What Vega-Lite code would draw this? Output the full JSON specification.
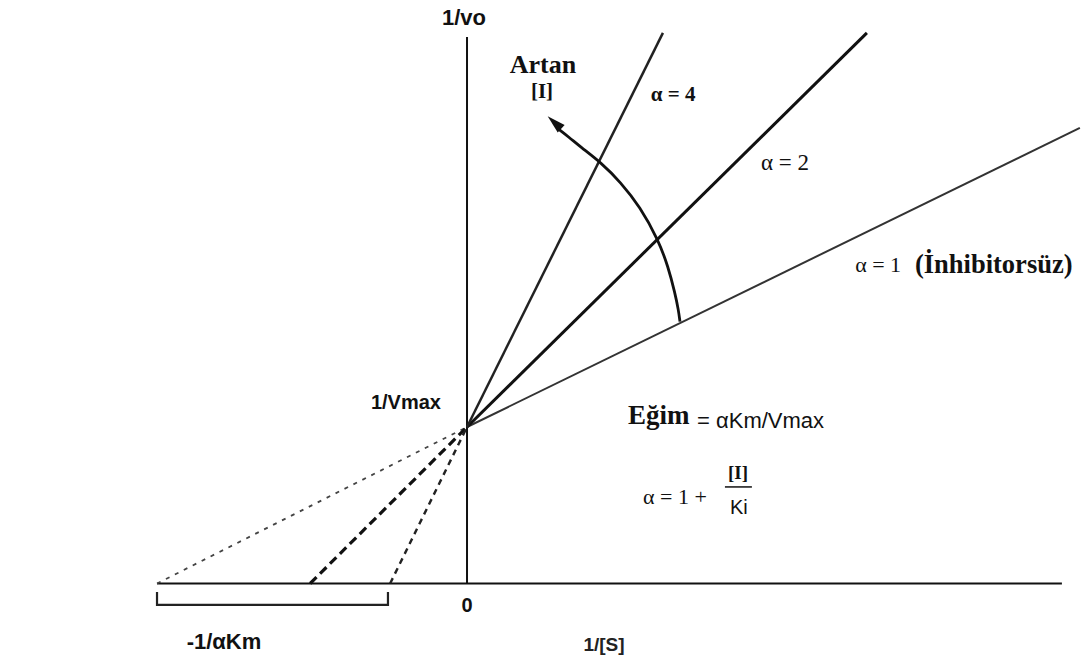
{
  "$schema": "https://vega.github.io/schema/vega-lite/v6.json",
  "width": 1081,
  "height": 662,
  "autosize": {"type": "none"},
  "padding": 0,
  "background": "white",
  "config": {"view": {"stroke": null}},
  "datasets": {
    "lines": [
      {"seg": "a1 dashed", "o": 0, "x": -1, "y": 0},
      {"seg": "a1 dashed", "o": 1, "x": 0, "y": 1},
      {"seg": "a1 solid", "o": 0, "x": 0, "y": 1},
      {"seg": "a1 solid", "o": 1, "x": 1.977, "y": 2.911},
      {"seg": "a2 dashed", "o": 0, "x": -0.506, "y": 0},
      {"seg": "a2 dashed", "o": 1, "x": 0, "y": 1},
      {"seg": "a2 solid", "o": 0, "x": 0, "y": 1},
      {"seg": "a2 solid", "o": 1, "x": 1.29, "y": 3.518},
      {"seg": "a4 dashed", "o": 0, "x": -0.248, "y": 0},
      {"seg": "a4 dashed", "o": 1, "x": 0, "y": 1},
      {"seg": "a4 solid", "o": 0, "x": 0, "y": 1},
      {"seg": "a4 solid", "o": 1, "x": 0.632, "y": 3.518}
    ]
  },
  "encoding": {
    "x": {"field": "x", "type": "quantitative", "scale": {"domain": [-1.5065, 1.9806], "nice": false, "zero": false}, "axis": null},
    "y": {"field": "y", "type": "quantitative", "scale": {"domain": [-0.5016, 3.7284], "nice": false, "zero": false}, "axis": null}
  },
  "layer": [
    {
      "data": {"values": [
        {"x": 0, "y": 0, "x2": 0, "y2": 3.492},
        {"x": -1, "y": 0, "x2": 1.919, "y2": 0}
      ]},
      "mark": {"type": "rule", "color": "#111", "strokeWidth": 2},
      "encoding": {"x2": {"field": "x2"}, "y2": {"field": "y2"}}
    },
    {
      "data": {"name": "lines"},
      "transform": [{"filter": "datum.seg == 'a1 solid'"}],
      "mark": {"type": "line", "color": "#333", "strokeWidth": 2},
      "encoding": {"order": {"field": "o"}}
    },
    {
      "data": {"name": "lines"},
      "transform": [{"filter": "datum.seg == 'a1 dashed'"}],
      "mark": {"type": "line", "color": "#444", "strokeWidth": 1.8, "strokeDash": [4, 6]},
      "encoding": {"order": {"field": "o"}}
    },
    {
      "data": {"name": "lines"},
      "transform": [{"filter": "datum.seg == 'a2 solid'"}],
      "mark": {"type": "line", "color": "#111", "strokeWidth": 3},
      "encoding": {"order": {"field": "o"}}
    },
    {
      "data": {"name": "lines"},
      "transform": [{"filter": "datum.seg == 'a2 dashed'"}],
      "mark": {"type": "line", "color": "#111", "strokeWidth": 3.2, "strokeDash": [9, 5]},
      "encoding": {"order": {"field": "o"}}
    },
    {
      "data": {"name": "lines"},
      "transform": [{"filter": "datum.seg == 'a4 solid'"}],
      "mark": {"type": "line", "color": "#222", "strokeWidth": 2.5},
      "encoding": {"order": {"field": "o"}}
    },
    {
      "data": {"name": "lines"},
      "transform": [{"filter": "datum.seg == 'a4 dashed'"}],
      "mark": {"type": "line", "color": "#222", "strokeWidth": 2.4, "strokeDash": [6, 5]},
      "encoding": {"order": {"field": "o"}}
    },
    {
      "data": {"values": [
        {"o": 0, "x": -1, "y": -0.054},
        {"o": 1, "x": -1, "y": -0.137},
        {"o": 2, "x": -0.255, "y": -0.137},
        {"o": 3, "x": -0.255, "y": -0.054}
      ]},
      "mark": {"type": "line", "color": "#222", "strokeWidth": 2.2},
      "encoding": {"order": {"field": "o"}}
    },
    {
      "data": {"values": [
        {"o": 0, "x": 0.687, "y": 1.673},
        {"o": 1, "x": 0.682, "y": 1.748},
        {"o": 2, "x": 0.671, "y": 1.854},
        {"o": 3, "x": 0.649, "y": 2.024},
        {"o": 4, "x": 0.617, "y": 2.195},
        {"o": 5, "x": 0.558, "y": 2.408},
        {"o": 6, "x": 0.494, "y": 2.567},
        {"o": 7, "x": 0.435, "y": 2.685},
        {"o": 8, "x": 0.365, "y": 2.791},
        {"o": 9, "x": 0.33, "y": 2.85},
        {"o": 10, "x": 0.292, "y": 2.908}
      ]},
      "mark": {"type": "line", "color": "#111", "strokeWidth": 2.8, "interpolate": "basis"},
      "encoding": {"order": {"field": "o"}}
    },
    {
      "data": {"values": [{"x": 0.282, "y": 2.946}]},
      "mark": {"type": "point", "shape": "M0,-1L-0.55,1L0.55,1Z", "size": 340, "angle": 313, "filled": true, "color": "#111", "opacity": 1}
    },
    {
      "data": {"values": [
        {"x": -0.0097, "y": 3.613, "t": "1/vo"}
      ]},
      "mark": {"type": "text", "font": "Liberation Sans", "fontWeight": "bold", "fontSize": 22, "color": "#111", "align": "center", "baseline": "middle"},
      "encoding": {"text": {"field": "t"}}
    },
    {
      "data": {"values": [
        {"x": -0.197, "y": 1.153, "t": "1/Vmax"},
        {"x": 0, "y": -0.144, "t": "0"}
      ]},
      "mark": {"type": "text", "font": "Liberation Sans", "fontWeight": "bold", "fontSize": 20, "color": "#111", "align": "center", "baseline": "middle"},
      "encoding": {"text": {"field": "t"}}
    },
    {
      "data": {"values": [
        {"x": -0.784, "y": -0.374, "t": "-1/αKm"}
      ]},
      "mark": {"type": "text", "font": "Liberation Sans", "fontWeight": "bold", "fontSize": 22, "color": "#111", "align": "center", "baseline": "middle"},
      "encoding": {"text": {"field": "t"}}
    },
    {
      "data": {"values": [{"x": 0.442, "y": -0.393, "t": "1/[S]"}]},
      "mark": {"type": "text", "font": "Liberation Sans", "fontWeight": "bold", "fontSize": 19, "color": "#222", "align": "center", "baseline": "middle"},
      "encoding": {"text": {"field": "t"}}
    },
    {
      "data": {"values": [{"x": 0.245, "y": 3.313, "t": "Artan"}]},
      "mark": {"type": "text", "font": "Liberation Serif", "fontWeight": "bold", "fontSize": 26, "color": "#111", "align": "center", "baseline": "middle"},
      "encoding": {"text": {"field": "t"}}
    },
    {
      "data": {"values": [
        {"x": 0.242, "y": 3.141, "t": "[I]"},
        {"x": 0.665, "y": 3.121, "t": "α = 4"}
      ]},
      "mark": {"type": "text", "font": "Liberation Serif", "fontWeight": "bold", "fontSize": 21, "color": "#111", "align": "center", "baseline": "middle"},
      "encoding": {"text": {"field": "t"}}
    },
    {
      "data": {"values": [
        {"x": 1.026, "y": 2.687, "t": "α = 2"}
      ]},
      "mark": {"type": "text", "font": "Liberation Serif", "fontSize": 23, "color": "#111", "align": "center", "baseline": "middle"},
      "encoding": {"text": {"field": "t"}}
    },
    {
      "data": {"values": [
        {"x": 1.252, "y": 2.035, "t": "α = 1"},
        {"x": 0.568, "y": 0.553, "t": "α = 1 +"}
      ]},
      "mark": {"type": "text", "font": "Liberation Serif", "fontSize": 22, "color": "#111", "align": "left", "baseline": "middle"},
      "encoding": {"text": {"field": "t"}}
    },
    {
      "data": {"values": [
        {"x": 1.445, "y": 2.035, "t": "(İnhibitorsüz)"}
      ]},
      "mark": {"type": "text", "font": "Liberation Serif", "fontWeight": "bold", "fontSize": 26.5, "color": "#111", "align": "left", "baseline": "middle"},
      "encoding": {"text": {"field": "t"}}
    },
    {
      "data": {"values": [
        {"x": 0.519, "y": 1.07, "t": "Eğim"}
      ]},
      "mark": {"type": "text", "font": "Liberation Serif", "fontWeight": "bold", "fontSize": 27, "color": "#111", "align": "left", "baseline": "middle"},
      "encoding": {"text": {"field": "t"}}
    },
    {
      "data": {"values": [
        {"x": 0.742, "y": 1.038, "t": "= αKm/Vmax"}
      ]},
      "mark": {"type": "text", "font": "Liberation Sans", "fontSize": 22, "color": "#111", "align": "left", "baseline": "middle"},
      "encoding": {"text": {"field": "t"}}
    },
    {
      "data": {"values": [
        {"x": 0.874, "y": 0.706, "t": "[I]"}
      ]},
      "mark": {"type": "text", "font": "Liberation Serif", "fontWeight": "bold", "fontSize": 19, "color": "#111", "align": "center", "baseline": "middle"},
      "encoding": {"text": {"field": "t"}}
    },
    {
      "data": {"values": [
        {"x": 0.877, "y": 0.482, "t": "Ki"}
      ]},
      "mark": {"type": "text", "font": "Liberation Sans", "fontSize": 20, "color": "#111", "align": "center", "baseline": "middle"},
      "encoding": {"text": {"field": "t"}}
    },
    {
      "data": {"values": [{"x": 0.832, "y": 0.617, "x2": 0.919}]},
      "mark": {"type": "rule", "color": "#111", "strokeWidth": 1.5},
      "encoding": {"x2": {"field": "x2"}}
    }
  ]
}
